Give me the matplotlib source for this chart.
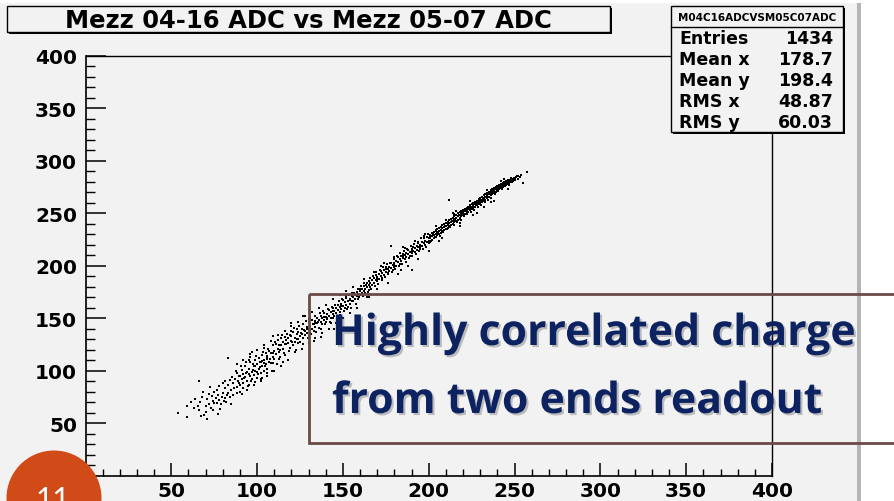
import numpy as np
import matplotlib
matplotlib.use("Agg")
import matplotlib.pyplot as plt
import matplotlib.patheffects as pe
from matplotlib.patches import Rectangle, Circle
from matplotlib.ticker import FixedLocator, MultipleLocator

# Mezz 04-16 ADC (x) vs Mezz 05-07 ADC (y), per event
# low end of the band
low_x = [54, 59, 59, 63, 64, 66, 66, 67, 68, 69, 70, 71, 72, 72, 73, 74, 75, 75, 76, 77,
         77, 78, 78, 79, 80, 80, 81, 81, 82, 83, 83, 84, 84, 85, 86, 86, 83, 71,
         61.5, 65.5, 68.5, 70.5, 73.5, 74.5, 76.5, 78.5, 79.5, 81.5, 82.5, 84.5, 85.5, 86.5,
         67.5, 72.5, 80.5, 76.5]
low_y = [60, 56, 66, 64, 73, 62, 90, 70, 75, 58, 66, 73, 78, 68, 64, 71, 80, 69, 74, 59,
         77, 85, 72, 68, 79, 88, 74, 83, 70, 86, 79, 75, 91, 82, 88, 77, 112, 54,
         70, 66, 80, 61, 76, 62, 82, 63, 75, 90, 77, 68, 94, 83,
         57, 84, 71, 69]

mid_x = [87, 88, 88, 89, 90, 90, 91, 91, 92, 92, 93, 93, 94, 94, 95, 95, 96, 96, 97, 97,
         98, 98, 99, 99, 100, 100, 101, 101, 102, 102, 103, 103, 104, 104, 105, 105, 106, 106, 107, 107,
         108, 108, 109, 109, 110, 110, 111, 111, 112, 112, 113, 113, 114, 114, 115, 115, 116, 116, 117, 117,
         95, 99, 103, 106, 100, 104,
         87.5, 88.5, 89.5, 90.5, 91.5, 92.5, 93.5, 94.5, 95.5, 96.5, 97.5, 98.5, 99.5, 100.5, 101.5, 102.5,
         103.5, 104.5, 105.5, 106.5, 107.5, 108.5, 109.5, 110.5, 111.5, 112.5, 113.5, 114.5, 115.5, 116.5,
         117.5, 89.5, 93.5, 97.5, 101.5, 105.5, 109.5, 113.5, 96, 104]
mid_y = [92, 84, 98, 90, 95, 86, 101, 92, 88, 97, 104, 94, 90, 99, 86, 102, 95, 108, 99, 92,
         104, 96, 110, 100, 93, 106, 102, 112, 98, 108, 104, 115, 100, 110, 106, 117, 102, 112, 108, 119,
         117, 107, 113, 124, 119, 111, 125, 116, 121, 129, 118, 111, 124, 131, 121, 127, 115, 132, 125, 129,
         97, 104, 109, 114, 99, 107,
         100, 79, 95, 104, 83, 93, 108, 85, 110, 90, 106, 89, 114, 97, 108, 92,
         118, 104, 98, 121, 111, 100, 117, 127, 106, 124, 113, 134, 117, 125,
         135, 88, 98, 101, 103, 111, 107, 120, 116, 122]

upper_x = [118, 118, 119, 119, 120, 120, 121, 121, 122, 122, 123, 123, 124, 124, 125, 125, 126, 126, 127, 127,
           128, 128, 129, 129, 130, 130, 131, 131, 132, 132, 133, 133, 134, 134, 135, 135, 136, 136, 137, 137,
           138, 138, 139, 139, 140, 140, 141, 141, 142, 142, 143, 143, 144, 144, 145, 145, 146, 146, 147, 147,
           148, 148, 149, 149, 150, 150, 151, 151, 152, 152, 153, 153, 154, 154, 155, 155,
           127, 120, 133, 145,
           118.5, 119.5, 120.5, 121.5, 122.5, 123.5, 124.5, 125.5, 126.5, 127.5, 128.5, 129.5, 130.5, 131.5,
           132.5, 133.5, 134.5, 135.5, 136.5, 137.5, 138.5, 139.5, 140.5, 141.5, 142.5, 143.5, 144.5, 145.5,
           146.5, 147.5, 148.5, 149.5, 150.5, 151.5, 152.5, 153.5, 154.5, 155.5,
           124, 129, 134, 139, 144, 149, 154]
upper_y = [126, 131, 122, 134, 128, 133, 124, 137, 131, 127, 135, 140, 130, 137, 133, 127, 140, 135, 131, 144,
           138, 134, 142, 136, 140, 146, 137, 143, 140, 148, 144, 138, 147, 142, 145, 150, 141, 148, 146, 152,
           144, 150, 148, 155, 151, 146, 154, 149, 152, 158, 150, 156, 154, 160, 152, 157, 160, 155, 158, 163,
           156, 161, 164, 159, 162, 167, 160, 165, 163, 169, 166, 161, 168, 164, 171, 166,
           152, 145, 128, 140,
           119, 138, 127, 141, 120, 130, 143, 136, 125, 139, 147, 131, 149, 135,
           144, 152, 137, 146, 155, 140, 157, 144, 150, 159, 146, 161, 150, 163,
           151, 166, 153, 168, 157, 171, 159, 172, 160, 174,
           126, 140, 145, 151, 157, 162, 167]

high_x = [156, 156, 157, 157, 158, 158, 159, 159, 160, 160, 161, 161, 162, 162, 163, 163, 164, 164, 165, 165,
          166, 166, 167, 167, 168, 168, 169, 169, 170, 170, 171, 171, 172, 172, 173, 173, 174, 174, 175, 175,
          176, 176, 177, 177, 178, 178, 179, 179, 180, 180, 181, 181, 182, 182, 183, 183, 184, 184, 185, 185,
          186, 186, 187, 187, 188, 188, 189, 189, 190, 190, 191, 191, 192, 192, 193, 193, 194, 194, 195, 195,
          196, 196, 197, 197, 198, 198, 199, 199, 200, 200,
          178, 190, 165, 185,
          156.5, 157.5, 158.5, 159.5, 160.5, 161.5, 162.5, 163.5, 164.5, 165.5, 166.5, 167.5, 168.5, 169.5,
          170.5, 171.5, 172.5, 173.5, 174.5, 175.5, 176.5, 177.5, 178.5, 179.5, 180.5, 181.5, 182.5, 183.5,
          184.5, 185.5, 186.5, 187.5, 188.5, 189.5, 190.5, 191.5, 192.5, 193.5, 194.5, 195.5, 196.5, 197.5,
          198.5, 199.5, 160, 165, 170, 175, 180, 185, 190, 195, 200]
high_y = [170, 166, 172, 168, 171, 175, 173, 168, 176, 172, 174, 178, 176, 181, 178, 174, 180, 184, 182, 177,
          184, 180, 186, 182, 188, 184, 186, 191, 189, 185, 192, 187, 190, 195, 193, 188, 196, 191, 194, 199,
          197, 192, 199, 195, 198, 203, 201, 196, 203, 199, 205, 200, 204, 208, 206, 202, 209, 205, 207, 211,
          210, 206, 212, 208, 211, 215, 213, 209, 216, 212, 214, 218, 217, 213, 219, 215, 218, 222, 220, 216,
          223, 219, 222, 226, 224, 220, 227, 223, 226, 222,
          219, 196, 170, 218,
          174, 164, 178, 170, 181, 171, 184, 182, 175, 188, 178, 190, 181, 194,
          183, 196, 186, 199, 189, 202, 193, 203, 194, 206, 197, 209, 200, 212,
          202, 214, 204, 216, 207, 219, 209, 221, 211, 223, 214, 226, 216, 228,
          218, 230, 178, 185, 187, 197, 201, 209, 214, 218, 224]

top_x = [201, 201, 201, 202, 202, 202, 203, 203, 203, 204, 204, 204, 205, 205, 205, 206, 206, 206, 207, 207,
         207, 208, 208, 208, 209, 209, 209, 210, 210, 210, 211, 211, 211, 212, 212, 212, 213, 213, 213, 214,
         214, 214, 215, 215, 215, 215, 216, 216, 216, 217, 217, 217, 218, 218, 218, 218, 219, 219, 219, 220,
         220, 220, 220, 221, 221, 221, 222, 222, 222, 222, 223, 223, 223, 224, 224, 224, 224, 225, 225, 225,
         226, 226, 226, 226, 227, 227, 227, 228, 228, 228, 228, 229, 229, 229, 230, 230, 230, 230, 231, 231,
         231, 232, 232, 232, 232, 233, 233, 233, 234, 234, 234, 234, 235, 235, 235, 236, 236, 236, 236, 237,
         237, 237, 238, 238, 238, 238, 239, 239, 239, 240, 240, 240, 240, 241, 241, 241, 242, 242, 242, 242,
         243, 243, 243, 244, 244, 244, 245, 245, 245, 246, 246, 246, 247, 247, 248, 248, 248, 249, 249, 250,
         250, 251, 252, 252, 254, 257, 212, 255, 226,
         200.5, 201.5, 202.5, 203.5, 204.5, 205.5, 206.5, 207.5, 208.5, 209.5, 210.5, 211.5, 212.5, 213.5,
         214.5, 215.5, 216.5, 217.5, 218.5, 219.5, 220.5, 221.5, 222.5, 223.5, 224.5, 225.5, 226.5, 227.5,
         228.5, 229.5, 230.5, 231.5, 232.5, 233.5, 234.5, 235.5, 236.5, 237.5, 238.5, 239.5, 240.5, 241.5,
         242.5, 243.5, 244.5, 245.5, 246.5, 247.5, 248.5, 249.5, 250.5, 251.5, 253,
         218, 224, 236, 242, 206, 210]
top_y = [226, 229, 223, 228, 225, 231, 229, 226, 232, 230, 233, 227, 232, 229, 235, 233, 230, 236, 234, 231,
         237, 236, 233, 239, 237, 234, 240, 238, 235, 241, 239, 236, 242, 241, 238, 244, 242, 239, 245, 243,
         240, 246, 244, 242, 247, 249, 246, 243, 248, 247, 244, 250, 248, 245, 251, 246, 249, 247, 252, 250,
         248, 253, 251, 252, 249, 254, 253, 250, 255, 252, 254, 251, 256, 255, 253, 258, 256, 256, 254, 259,
         258, 255, 260, 257, 259, 256, 261, 260, 258, 262, 259, 261, 259, 264, 262, 260, 265, 263, 263, 261,
         266, 265, 262, 267, 264, 266, 263, 268, 267, 265, 269, 266, 268, 266, 270, 269, 267, 272, 270, 270,
         268, 273, 272, 269, 274, 271, 273, 270, 275, 274, 272, 276, 273, 275, 273, 277, 276, 274, 278, 277,
         277, 275, 279, 278, 276, 280, 279, 277, 281, 280, 278, 282, 281, 279, 282, 280, 284, 283, 281, 284,
         282, 285, 286, 283, 287, 289, 263, 279, 248,
         228, 224, 230, 227, 234, 231, 228, 236, 232, 238, 235, 240, 237, 243,
         239, 245, 242, 248, 244, 250, 247, 253, 249, 254, 251, 257, 253, 258,
         256, 262, 258, 264, 261, 266, 263, 268, 265, 271, 268, 273, 271, 276,
         273, 278, 276, 280, 277, 282, 280, 284, 283, 286, 285,
         241, 262, 261, 281, 224, 244]

# stray events on both sides of the band
edge_x = [88, 90, 92, 94, 96, 98, 100, 102, 104, 106, 108, 110, 112, 114, 116, 118, 120, 91, 97, 103, 109, 115,
          122, 124, 126, 128, 130, 132, 134, 136, 138, 140, 142, 144, 146, 148, 150, 152, 154, 156, 158, 131, 143, 137,
          162, 164, 168, 170, 174, 176, 180, 182, 186, 188, 192, 194, 198, 200, 172, 184,
          204, 208, 214, 218, 224, 228, 234, 238, 244, 246, 216, 232]
edge_y = [106, 80, 110, 82, 113, 86, 120, 90, 124, 95, 128, 100, 134, 104, 138, 110, 143, 78, 118, 93, 133, 108,
          118, 146, 121, 152, 126, 156, 131, 160, 136, 163, 140, 168, 145, 172, 150, 176, 155, 180, 160, 150, 145, 132,
          187, 170, 194, 178, 203, 184, 208, 192, 217, 200, 224, 206, 230, 214, 200, 196,
          238, 226, 250, 238, 262, 250, 272, 262, 283, 273, 252, 256]

stat_names = ["Entries", "Mean x", "Mean y", "RMS x", "RMS y"]
stat_values = ["1434", "178.7", "198.4", "48.87", "60.03"]

adc_x = np.array(low_x + mid_x + upper_x + high_x + top_x + edge_x)
adc_y = np.array(low_y + mid_y + upper_y + high_y + top_y + edge_y)

W, H = 894, 502
canvas = "#f2f2f2"
fig = plt.figure(figsize=(W / 100, H / 100), dpi=100, facecolor="white")

# canvas background (pixel coordinates)
bg = fig.add_axes([0, 0, 1, 1], zorder=-1)
bg.set_xlim(0, W)
bg.set_ylim(H, 0)
bg.axis("off")
bg.add_patch(Rectangle((0, 4), 857, H, color=canvas, lw=0))
bg.add_patch(Rectangle((857, 4), 4, H, color="#b5b5b5", lw=0))

# scatter frame
ax = fig.add_axes([85.5 / W, (H - 476.5) / H, (772 - 85.5) / W, (476.5 - 57) / H], zorder=1)
ax.set_facecolor("none")
ax.scatter(adc_x, adc_y, s=3.5, marker="s", c="black", linewidths=0)
ax.set_xlim(0, 400)
ax.set_ylim(0, 400)
for sp in ["top", "right"]:
    ax.spines[sp].set_linewidth(1.0)
for sp in ["left", "bottom"]:
    ax.spines[sp].set_linewidth(1.2)

ticks = [50, 100, 150, 200, 250, 300, 350, 400]
ax.xaxis.set_major_locator(FixedLocator(ticks))
ax.yaxis.set_major_locator(FixedLocator(ticks))
ax.xaxis.set_minor_locator(MultipleLocator(10))
ax.yaxis.set_minor_locator(MultipleLocator(10))
ax.tick_params(axis="x", which="major", direction="in", length=9.4, width=1.1, pad=4)
ax.tick_params(axis="x", which="minor", direction="in", length=5, width=1.0)
ax.tick_params(axis="y", which="major", direction="in", length=14.4, width=1.1, pad=6)
ax.tick_params(axis="y", which="minor", direction="in", length=6.5, width=1.0)
for lab in ax.get_xticklabels() + ax.get_yticklabels():
    lab.set_fontfamily("DejaVu Sans")
    lab.set_fontweight("bold")
    lab.set_fontsize(14.5)

# overlay: title box, stats box, slide annotations
ov = fig.add_axes([0, 0, 1, 1], zorder=3)
ov.set_xlim(0, W)
ov.set_ylim(H, 0)
ov.axis("off")

ov.add_patch(Rectangle((9, 9), 603, 26, color="black", lw=0))
ov.add_patch(Rectangle((7, 7), 603, 26, facecolor=canvas, edgecolor="black", lw=1))
ov.text(308, 20.5, "Mezz 04-16 ADC vs Mezz 05-07 ADC", ha="center", va="center",
        fontsize=17.5, fontweight="bold", family="DejaVu Sans")

ov.add_patch(Rectangle((673, 9), 172, 126, color="black", lw=0))
ov.add_patch(Rectangle((671, 7), 172, 126, facecolor=canvas, edgecolor="black", lw=1))
ov.plot([671, 843], [28, 28], color="black", lw=1)
ov.text(757, 18, "M04C16ADCVSM05C07ADC", ha="center", va="center",
        fontsize=7.5, fontweight="bold", family="DejaVu Sans")
for i, (name, val) in enumerate(zip(stat_names, stat_values)):
    yy = 39 + i * 21
    ov.text(679, yy, name, ha="left", va="center", fontsize=12.5,
            fontweight="bold", family="DejaVu Sans")
    ov.text(833, yy, val, ha="right", va="center", fontsize=12.5,
            fontweight="bold", family="DejaVu Sans")

ov.add_patch(Circle((54, 499), 47.5, color="#d14b18", lw=0))
ov.text(53, 509, "11", ha="center", va="baseline", color="white",
        fontsize=21.5, family="Lato")

ov.add_patch(Rectangle((309, 295), 700, 149, fill=False, edgecolor="#6b4a48", lw=2))
shadow = [pe.SimplePatchShadow(offset=(1.5, -1.5), shadow_rgbFace="#555555", alpha=0.35), pe.Normal()]
ov.text(332, 346, "Highly correlated charge", ha="left", va="baseline", color="#0c2261",
        fontsize=30.8, fontweight="bold", family="Open Sans", path_effects=shadow)
ov.text(332, 414, "from two ends readout", ha="left", va="baseline", color="#0c2261",
        fontsize=30.8, fontweight="bold", family="Open Sans", path_effects=shadow)

fig.savefig("out.png", dpi=100, facecolor="white")
